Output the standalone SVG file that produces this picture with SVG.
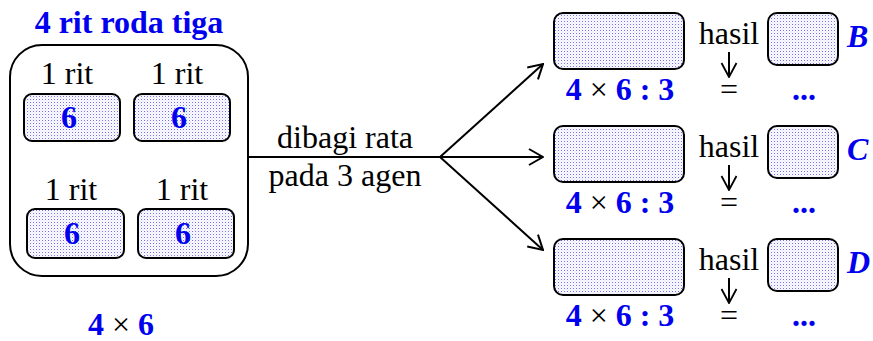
<svg xmlns="http://www.w3.org/2000/svg" width="873" height="341" viewBox="0 0 873 341">
<defs>
<pattern id="dots" width="3" height="3" patternUnits="userSpaceOnUse">
<rect width="3" height="3" fill="#fcfcff"/>
<rect x="0" y="0" width="1" height="1" fill="#6f6ff0"/>
<rect x="1.5" y="1.5" width="1" height="1" fill="#c8c8f7"/>
</pattern>
<marker id="vhead" markerWidth="16" markerHeight="18" refX="15" refY="9" orient="auto" markerUnits="userSpaceOnUse">
<path d="M1,1 L15,9 L1,17" fill="none" stroke="#000" stroke-width="2"/>
</marker>
<marker id="dhead" markerWidth="16" markerHeight="18" refX="15" refY="9" orient="auto" markerUnits="userSpaceOnUse">
<path d="M1,1.5 L15,9 L1,16.5" fill="none" stroke="#000" stroke-width="1.8"/>
</marker>
</defs>
<style>
text{font-family:"Liberation Serif","Times New Roman",serif;font-size:32px;fill:#000}
.b{font-weight:bold;fill:#0000ee}
.bi{font-weight:bold;font-style:italic;fill:#0000ee}
.box{fill:url(#dots);stroke:#000;stroke-width:2}
.big{fill:none;stroke:#000;stroke-width:2}
.ln{fill:none;stroke:#000;stroke-width:2}
</style>

<g id="title">
<text x="129" y="33" text-anchor="middle" class="b">4 rit roda tiga</text>
</g>

<g id="group-box">
<rect class="big" x="10" y="45" width="238" height="231" rx="32"/>
</g>

<g id="rit1">
<text x="67" y="84" text-anchor="middle">1 rit</text>
<rect class="box" x="24" y="94" width="96" height="47" rx="8"/>
<text x="69" y="128" text-anchor="middle" class="b">6</text>
</g>
<g id="rit2">
<text x="177" y="84" text-anchor="middle">1 rit</text>
<rect class="box" x="134" y="94" width="96" height="47" rx="8"/>
<text x="179" y="128" text-anchor="middle" class="b">6</text>
</g>
<g id="rit3">
<text x="71" y="200" text-anchor="middle">1 rit</text>
<rect class="box" x="27" y="209" width="97" height="49" rx="8"/>
<text x="72" y="244" text-anchor="middle" class="b">6</text>
</g>
<g id="rit4">
<text x="182" y="200" text-anchor="middle">1 rit</text>
<rect class="box" x="138" y="209" width="96" height="49" rx="8"/>
<text x="183" y="244" text-anchor="middle" class="b">6</text>
</g>

<g id="total">
<text x="121" y="335" text-anchor="middle"><tspan class="b">4</tspan> × <tspan class="b">6</tspan></text>
</g>

<g id="connectors">
<line class="ln" x1="248" y1="157" x2="440" y2="157"/>
<line class="ln" x1="440" y1="157" x2="543" y2="64" marker-end="url(#vhead)"/>
<line class="ln" x1="440" y1="157" x2="543" y2="157" marker-end="url(#vhead)"/>
<line class="ln" x1="440" y1="157" x2="543" y2="250" marker-end="url(#vhead)"/>
<line class="ln" x1="729" y1="52" x2="729" y2="77" marker-end="url(#dhead)"/>
<line class="ln" x1="729" y1="165" x2="729" y2="190" marker-end="url(#dhead)"/>
<line class="ln" x1="729" y1="278" x2="729" y2="303" marker-end="url(#dhead)"/>
</g>

<g id="edge-label">
<text x="345" y="148" text-anchor="middle">dibagi rata</text>
<text x="345" y="186" text-anchor="middle">pada 3 agen</text>
</g>

<g id="agent-B">
<rect class="box" x="554" y="13" width="130" height="56" rx="9"/>
<text x="729" y="44" text-anchor="middle">hasil</text>
<rect class="box" x="768" y="13" width="70" height="52" rx="9"/>
<text x="847" y="47" class="bi">B</text>
<text x="620" y="100" text-anchor="middle"><tspan class="b">4</tspan> × <tspan class="b">6 : 3</tspan></text>
<text x="729" y="100" text-anchor="middle">=</text>
<text x="804" y="100" text-anchor="middle" class="b">...</text>
</g>

<g id="agent-C">
<rect class="box" x="554" y="126" width="130" height="56" rx="9"/>
<text x="729" y="157" text-anchor="middle">hasil</text>
<rect class="box" x="768" y="126" width="70" height="52" rx="9"/>
<text x="847" y="160" class="bi">C</text>
<text x="620" y="213" text-anchor="middle"><tspan class="b">4</tspan> × <tspan class="b">6 : 3</tspan></text>
<text x="729" y="213" text-anchor="middle">=</text>
<text x="804" y="213" text-anchor="middle" class="b">...</text>
</g>

<g id="agent-D">
<rect class="box" x="554" y="239" width="130" height="56" rx="9"/>
<text x="729" y="270" text-anchor="middle">hasil</text>
<rect class="box" x="768" y="239" width="70" height="52" rx="9"/>
<text x="847" y="273" class="bi">D</text>
<text x="620" y="326" text-anchor="middle"><tspan class="b">4</tspan> × <tspan class="b">6 : 3</tspan></text>
<text x="729" y="326" text-anchor="middle">=</text>
<text x="804" y="326" text-anchor="middle" class="b">...</text>
</g>
</svg>
